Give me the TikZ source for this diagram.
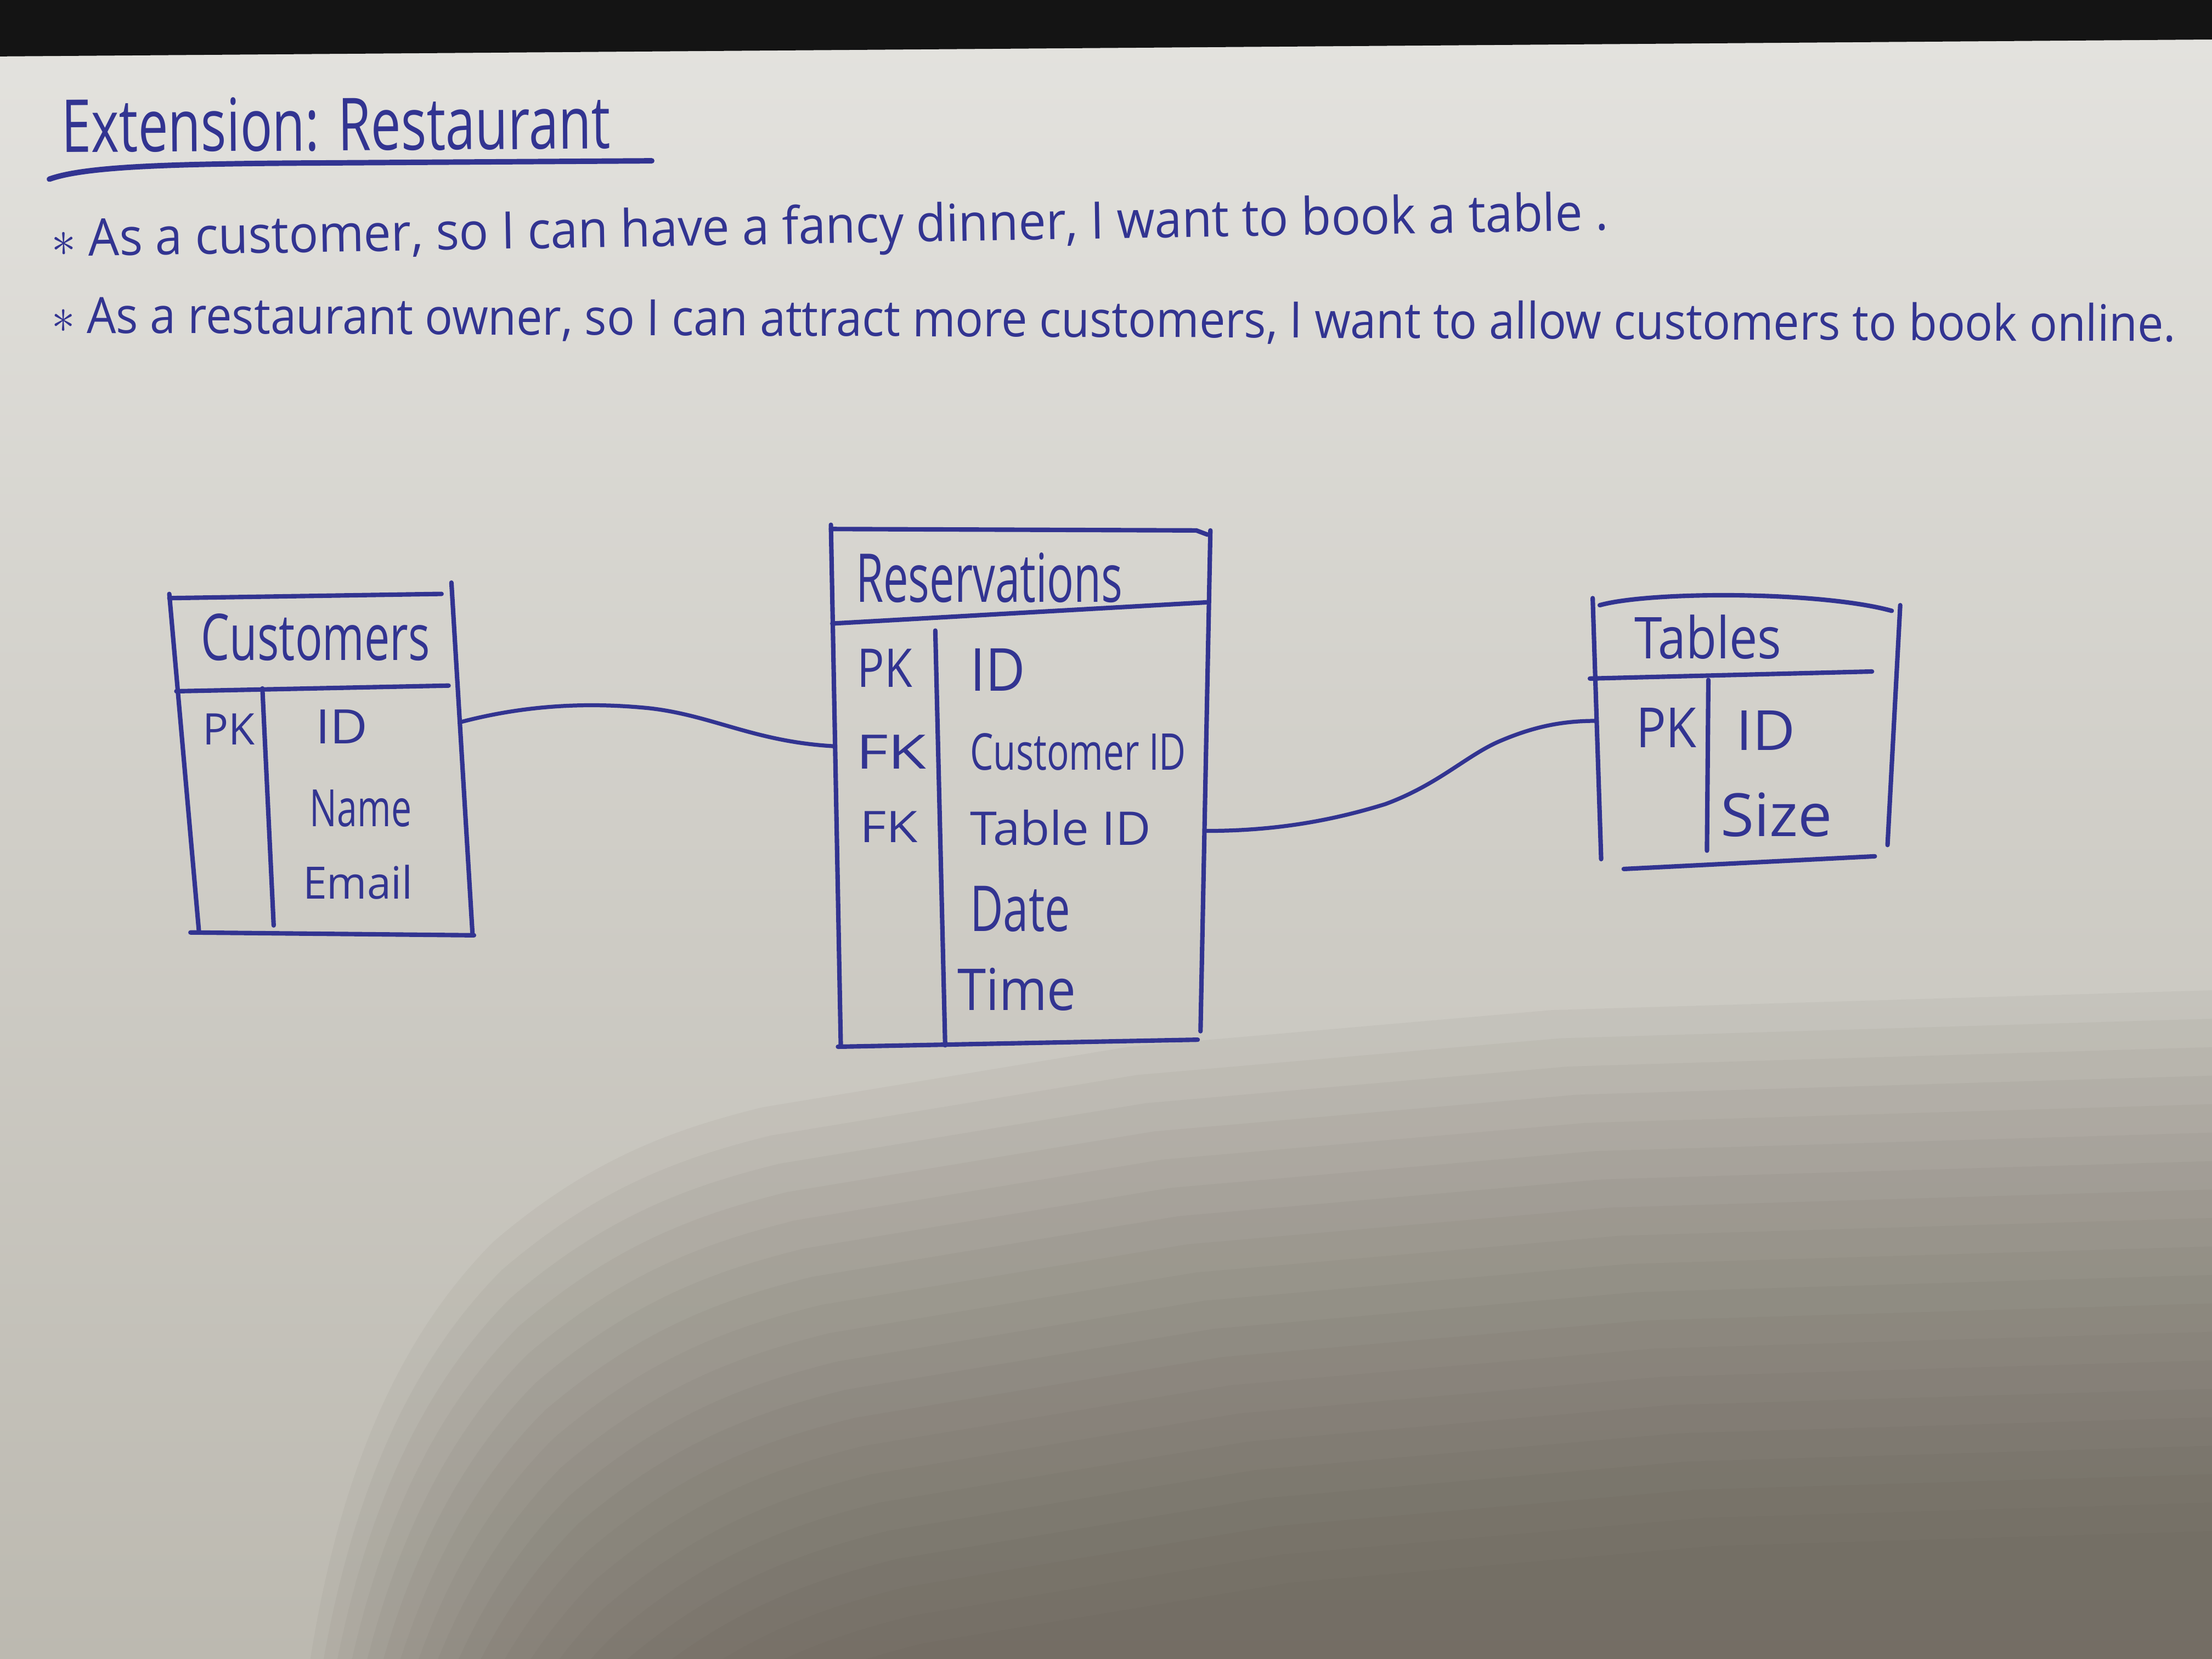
\documentclass[tikz,border=0pt]{standalone}
\usepackage{fontspec}
\setmainfont{Open Sans}
\usepackage{graphicx}

\definecolor{inkblue}{RGB}{50,52,145}
\definecolor{paperTop}{RGB}{228,227,223}
\definecolor{paperBot}{RGB}{188,185,176}
\definecolor{shadowTone}{RGB}{85,78,68}

% hand-lettered text squeezed to a given width and height
\newcommand\handtext[3]{\resizebox{#1}{#2}{#3}}

\begin{document}
\begin{tikzpicture}[x=0.01cm,y=-0.01cm,
  ink/.style={draw=inkblue,line width=0.9pt,line cap=round,line join=round},
  link/.style={draw=inkblue,line width=0.8pt,line cap=round},
  hand/.style={inner sep=0pt,anchor=base west,text=inkblue}]
\useasboundingbox (0,0) rectangle (1568,1176);

% sheet of paper, the shadow falling over its lower part, dark edge above
\begin{scope}
  \clip (0,0) rectangle (1568,1176);
  \shade[top color=paperTop,bottom color=paperBot] (0,0) rectangle (1568,1176);
  \foreach \k in {0,...,19}{
    \fill[shadowTone,fill opacity=0.05,shift={(6*\k,20*\k)}]
      (150,1400) -- (220,1176) .. controls (240,1050) and (280,950) .. (350,880)
      .. controls (420,820) and (480,800) .. (540,785) -- (800,742) -- (1100,716)
      -- (1800,695) -- (1800,1800) -- (150,1800) -- cycle;
  }
  \fill[black!92] (0,0) -- (1568,0) -- (1568,28) -- (0,40) -- cycle;
\end{scope}

% heading and user stories
\node[hand,rotate=0.4] (title) at (43,108) {\handtext{3.89cm}{0.38cm}{Extension: Restaurant}};
\draw[link,line width=1.1pt] (35,127) .. controls (60,118) and (120,116) .. (230,115.5) -- (462,114);

\node[hand,rotate=0.98] (story1) at (36,182)
  {\handtext{11.03cm}{0.28cm}{$\ast$ As a customer, so I can have a fancy dinner, I want to book a table .}};
\node[hand,rotate=-0.23] (story2) at (36,236)
  {\handtext{15.05cm}{0.27cm}{$\ast$ As a restaurant owner, so I can attract more customers, I want to allow customers to book online.}};

% Customers table
\draw[ink] (120,424) -- (313,421);
\draw[ink] (120,421) -- (141,660);
\draw[ink] (320,413) -- (335,663);
\draw[ink] (135,661) -- (336,663);
\draw[ink] (125,490) -- (318,486);
\draw[ink] (186,488) -- (194,656);
\node[hand] (cust-name) at (142,468) {\handtext{1.62cm}{0.33cm}{Customers}};
\node[hand] (cust-pk)   at (143,528) {\handtext{0.37cm}{0.22cm}{PK}};
\node[hand] (cust-id)   at (223,527) {\handtext{0.37cm}{0.24cm}{ID}};
\node[hand] (cust-nm)   at (219,586) {\handtext{0.72cm}{0.26cm}{Name}};
\node[hand] (cust-em)   at (214,637) {\handtext{0.78cm}{0.24cm}{Email}};
\coordinate (cust-link) at (326,512);

% Reservations table
\draw[ink] (589,375) -- (848,376) -- (856,379);
\draw[ink] (589,372) -- (596,741);
\draw[ink] (858,376) -- (851,731);
\draw[ink] (594,742) -- (849,737);
\draw[ink] (590,442) -- (855,427);
\draw[ink] (663,447) -- (670,741);
\node[hand] (res-name) at (606,427) {\handtext{1.89cm}{0.35cm}{Reservations}};
\node[hand] (res-pk)   at (607,487) {\handtext{0.39cm}{0.27cm}{PK}};
\node[hand] (res-id)   at (687,490) {\handtext{0.39cm}{0.30cm}{ID}};
\node[hand] (res-fk1)  at (606,545) {\handtext{0.50cm}{0.24cm}{FK}};
\node[hand] (res-cid)  at (687,546) {\handtext{1.53cm}{0.26cm}{Customer ID}};
\node[hand] (res-fk2)  at (609,597) {\handtext{0.41cm}{0.22cm}{FK}};
\node[hand] (res-tid)  at (687,599) {\handtext{1.28cm}{0.25cm}{Table ID}};
\node[hand] (res-date) at (687,660) {\handtext{0.71cm}{0.32cm}{Date}};
\node[hand] (res-time) at (678,716) {\handtext{0.84cm}{0.30cm}{Time}};
\coordinate (res-linkL) at (592,529);
\coordinate (res-linkR) at (855,589);

% Tables table
\draw[ink] (1134,429) .. controls (1170,419) and (1290,419) .. (1341,433);
\draw[ink] (1129,424) -- (1135,609);
\draw[ink] (1347,429) -- (1338,599);
\draw[ink] (1127,481) -- (1327,476);
\draw[ink] (1211,482) -- (1210,603);
\draw[ink] (1151,616) -- (1329,607);
\node[hand] (tab-name) at (1158,467) {\handtext{1.04cm}{0.31cm}{Tables}};
\node[hand] (tab-pk)   at (1159,530) {\handtext{0.43cm}{0.28cm}{PK}};
\node[hand] (tab-id)   at (1230,532) {\handtext{0.42cm}{0.28cm}{ID}};
\node[hand] (tab-size) at (1219,593) {\handtext{0.79cm}{0.31cm}{Size}};
\coordinate (tab-link) at (1132,511);

% relationships
\draw[link] (cust-link) .. controls (375,499) and (420,498) .. (460,502)
  .. controls (505,507) and (535,526) .. (res-linkL);
\draw[link] (res-linkR) .. controls (900,589) and (940,583) .. (982,570)
  .. controls (1020,556) and (1040,535) .. (1064,525)
  .. controls (1090,514) and (1110,511) .. (tab-link);
\end{tikzpicture}
\end{document}
